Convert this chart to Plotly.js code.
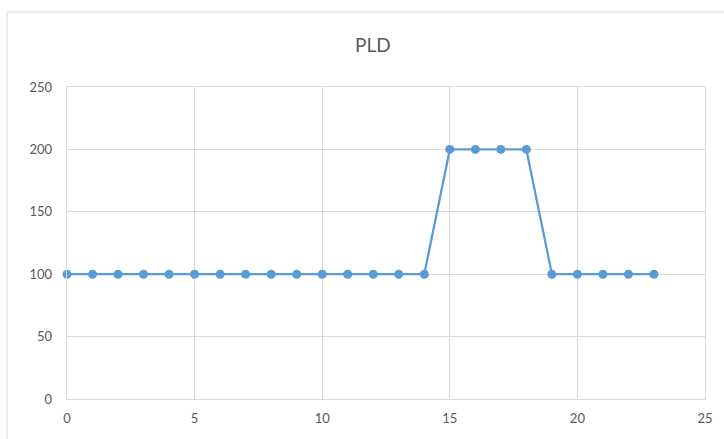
<!DOCTYPE html>
<html><head><meta charset="utf-8">
<script src="https://cdn.plot.ly/plotly-3.0.1.min.js"></script>
<style>body{margin:0;padding:0;background:#fff}</style>
</head><body>
<div id="chart" style="width:724px;height:439px"></div>
<script>
const xValues = [0,1,2,3,4,5,6,7,8,9,10,11,12,13,14,15,16,17,18,19,20,21,22,23];
const pldValues = [100,100,100,100,100,100,100,100,100,100,100,100,100,100,100,200,200,200,200,100,100,100,100,100];
const chartTitle = 'PLD';

const trace = {
  x: xValues, y: pldValues, type: 'scatter', mode: 'lines+markers',
  line: {color: '#5B9BD5', width: 2.25},
  marker: {color: '#5B9BD5', size: 9},
  cliponaxis: false, hoverinfo: 'skip'
};
const axisFont = {family: 'Lato, Carlito, "Liberation Sans", sans-serif', size: 13, color: '#595959'};
const layout = {
  width: 724, height: 439,
  margin: {l: 67, r: 19, t: 87, b: 40},
  paper_bgcolor: '#fff', plot_bgcolor: '#fff',
  showlegend: false,
  title: {text: chartTitle, x: 0.515, xanchor: 'center', y: 0.897, yanchor: 'middle',
    font: {family: 'Lato, Carlito, "Liberation Sans", sans-serif', size: 19, color: '#595959'}},
  xaxis: {range: [0, 25], dtick: 5, tick0: 0, showgrid: true, gridcolor: '#d9d9d9', gridwidth: 1.3,
    zeroline: false, showline: true, mirror: true, linecolor: '#d9d9d9', linewidth: 1.3,
    ticks: '', tickfont: axisFont, ticklabelstandoff: 7, fixedrange: true},
  yaxis: {range: [0, 250], dtick: 50, tick0: 0, showgrid: true, gridcolor: '#d9d9d9', gridwidth: 1.3,
    zeroline: false, showline: true, mirror: true, linecolor: '#d9d9d9', linewidth: 1.3,
    ticks: '', tickfont: axisFont, ticklabelstandoff: 11, fixedrange: true},
  shapes: [
    {type: 'rect', xref: 'paper', yref: 'paper', x0: -0.094, x1: 1.5, y0: -0.5, y1: 1.24,
     line: {color: '#d9d9d9', width: 1}, fillcolor: 'rgba(0,0,0,0)', layer: 'below'}
  ]
};
Plotly.newPlot('chart', [trace], layout, {displayModeBar: false, staticPlot: true});
</script>
</body></html>
